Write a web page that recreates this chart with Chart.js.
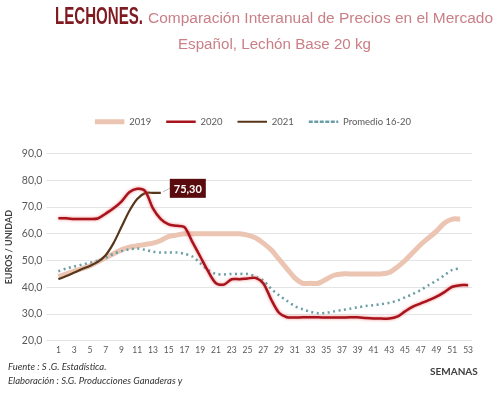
<!DOCTYPE html>
<html>
<head>
<meta charset="utf-8">
<script src="https://cdn.jsdelivr.net/npm/chart.js@4/dist/chart.umd.min.js"></script>
<style>
  html, body { margin: 0; padding: 0; background: #fff; }
  #wrap { position: relative; width: 500px; height: 394px; overflow: hidden; }
  #c { position: absolute; left: 0; top: 0; }
  .t { position: absolute; white-space: nowrap; font-family: "Liberation Sans", Arial, sans-serif; line-height: 1; transform-origin: 0 0; }
  .f { position: absolute; white-space: nowrap; font-family: Lato, "Liberation Sans", sans-serif; font-style: italic; font-size: 9.5px; color: #333; }
</style>
</head>
<body>
<div id="wrap">
  <canvas id="c" width="500" height="394"></canvas>
  <div class="t" data-w="88" style="left:55px; top:3.7px; font-size:24px; font-weight:bold; color:#7F1A21;">LECHONES.</div>
  <div class="t" data-w="345" style="left:148px; top:10.4px; font-size:15.5px; color:#C97F85;">Comparación Interanual de Precios en el Mercado</div>
  <div class="t" data-w="193" style="left:178px; top:35.9px; font-size:15.5px; color:#C97F85;">Español, Lechón Base 20 kg</div>
  <div class="f" style="left:8px; top:361px;">Fuente :  S .G. Estadística.</div>
  <div class="f" style="left:8px; top:375px;">Elaboración : S.G. Producciones Ganaderas y</div>
  <div class="f" style="left:430px; top:365px; font-style:normal; font-weight:bold; font-size:10px; color:#404040;">SEMANAS</div>
</div>
<script>
document.querySelectorAll('.t').forEach(el => {
  const target = parseFloat(el.dataset.w);
  const w = el.getBoundingClientRect().width;
  el.style.transform = 'scaleX(' + (target / w) + ')';
});

const weeks = Array.from({length: 53}, (_, i) => String(i + 1));

const s2019 = [44, 45, 46, 47, 48, 49.5, 51, 52.5, 54, 55, 55.5, 56, 56.5, 57.5, 59, 59.5, 60, 60, 60, 60,
  60, 60, 60, 60, 59.5, 58.5, 56.5, 54, 50.5, 47, 43.5, 41.5, 41.5, 41.5, 43, 44.5, 45, 45, 45, 45,
  45, 45, 45.5, 47.5, 50, 53, 56, 58.5, 61, 64, 65.5, 65.5];

const s2020 = [65.8, 65.8, 65.5, 65.5, 65.5, 65.7, 67.5, 69.5, 72, 75.5, 76.8, 76, 69.5, 65.5, 63.5, 63, 62.5, 57, 51.5, 46,
  41.5, 41, 43, 43, 43.3, 43.5, 41.5, 35.5, 30.5, 28.8, 28.7, 28.8, 28.8, 28.8, 28.7, 28.7, 28.7, 28.8, 28.8, 28.5,
  28.3, 28.3, 28.3, 29, 31, 32.8, 34, 35.2, 36.5, 38.2, 40.2, 40.8, 40.8];

const s2021 = [43, 44.2, 45.5, 46.8, 48, 49.5, 52, 56.5, 62.5, 68.5, 73, 75.2, 75.3, 75.3];

const sProm = [46, 47, 47.8, 48.5, 49.2, 50, 51, 52.5, 53.5, 54.2, 54.5, 54, 53.3, 53, 53, 53, 52.5, 51.5, 49, 46.5,
  45, 44.8, 45, 45, 45, 44, 42.5, 39.5, 37, 35, 33, 31.8, 30.8, 30.3, 30.5, 31, 31.5, 32, 32.5, 33,
  33.3, 33.7, 34.2, 35, 36.2, 37.5, 39, 40.8, 42.5, 44.5, 46.5, 47];

const lastLabel = "75,30";

const glowPlugin = {
  id: 'glow',
  beforeDatasetDraw(chart, args) {
    if (args.index === 1) {
      chart.ctx.save();
      chart.ctx.shadowColor = 'rgba(235,90,95,0.75)';
      chart.ctx.shadowBlur = 3;
    }
  },
  afterDatasetDraw(chart, args) {
    if (args.index === 1) chart.ctx.restore();
  }
};

const legendGap = {
  id: 'legendGap',
  beforeInit(chart) {
    const orig = chart.legend.fit;
    chart.legend.fit = function() {
      orig.call(this);
      this.height += 17;
    };
  },
  afterLayout(chart) {
    chart.legend.left += 15;
    chart.legend.right += 15;
  }
};

const labelPlugin = {
  id: 'lastLabel',
  afterDatasetsDraw(chart) {
    const meta = chart.getDatasetMeta(2);
    const pt = meta.data[meta.data.length - 1];
    const ctx = chart.ctx;
    const x = pt.x, y = pt.y;
    const bx = x + 9, bw = 36, bh = 19, by = y - 14;
    ctx.save();
    ctx.strokeStyle = '#BFBFBF';
    ctx.lineWidth = 1;
    ctx.beginPath();
    ctx.moveTo(x + 2, y - 1);
    ctx.lineTo(bx, by + bh / 2);
    ctx.stroke();
    ctx.fillStyle = '#5A0B0E';
    ctx.fillRect(bx, by, bw, bh);
    ctx.fillStyle = '#fff';
    ctx.font = 'bold 11px Lato, "Liberation Sans", sans-serif';
    ctx.textAlign = 'center';
    ctx.textBaseline = 'middle';
    ctx.fillText(lastLabel, bx + bw / 2, by + bh / 2 + 1);
    ctx.restore();
  }
};

new Chart(document.getElementById('c'), {
  type: 'line',
  data: {
    labels: weeks,
    datasets: [
      { label: '2019', data: s2019, borderColor: '#EBC4B2', backgroundColor: 'rgba(0,0,0,0)', borderWidth: 5, order: 4 },
      { label: '2020', data: s2020, borderColor: '#A8141C', backgroundColor: 'rgba(0,0,0,0)', borderWidth: 2.5, order: 1 },
      { label: '2021', data: s2021, borderColor: '#58361A', backgroundColor: 'rgba(0,0,0,0)', borderWidth: 2.2, order: 2 },
      { label: 'Promedio 16-20', data: sProm, borderColor: '#6A9EA6', backgroundColor: 'rgba(0,0,0,0)', borderWidth: 2.5, borderDash: [2, 3.5], order: 3 }
    ]
  },
  options: {
    responsive: false,
    animation: false,
    events: [],
    elements: { point: { radius: 0 }, line: { tension: 0.3 } },
    layout: { padding: { top: 102, left: 4, right: 28, bottom: 35 } },
    plugins: {
      legend: {
        position: 'top',
        labels: {
          boxWidth: 29.5,
          boxHeight: 0,
          padding: 15,
          color: '#595959',
          font: { family: 'Lato, "Liberation Sans", sans-serif', size: 9.5 },
          sort: (a, b) => a.datasetIndex - b.datasetIndex
        }
      },
      tooltip: { enabled: false },
      title: { display: false }
    },
    scales: {
      x: {
        offset: true,
        grid: { display: false, drawTicks: false },
        border: { display: false },
        ticks: {
          autoSkip: false,
          maxRotation: 0,
          padding: 4,
          color: '#595959',
          font: { family: 'Lato, "Liberation Sans", sans-serif', size: 8.5 },
          callback: function(v, i) { return (i % 2 === 0) ? this.getLabelForValue(v) : ''; }
        }
      },
      y: {
        min: 20, max: 90,
        grid: { color: '#E4E4E4' },
        border: { display: false },
        ticks: {
          stepSize: 10,
          padding: 4,
          color: '#595959',
          font: { family: 'Lato, "Liberation Sans", sans-serif', size: 10.5 },
          callback: v => v.toFixed(1).replace('.', ',')
        },
        title: {
          display: true,
          text: 'EUROS / UNIDAD',
          color: '#404040',
          font: { family: 'Lato, "Liberation Sans", sans-serif', size: 9, weight: 'bold' },
          padding: { top: 0, bottom: 3 }
        }
      }
    }
  },
  plugins: [glowPlugin, legendGap, labelPlugin]
});
</script>
</body>
</html>
